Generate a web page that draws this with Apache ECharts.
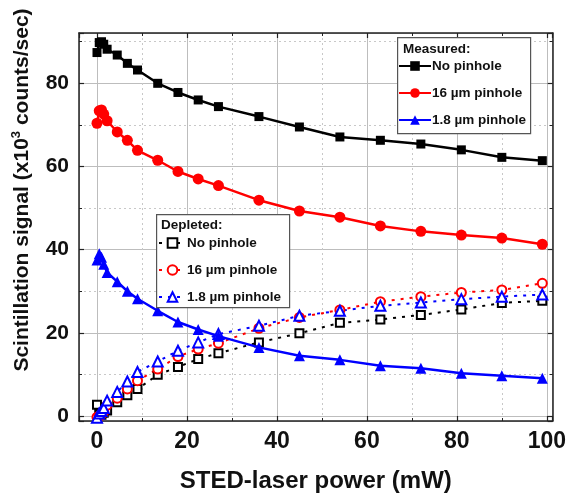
<!DOCTYPE html>
<html>
<head>
<meta charset="utf-8">
<script src="https://cdn.jsdelivr.net/npm/echarts@6/dist/echarts.min.js"></script>
<style>
html, body { margin: 0; padding: 0; background: #fff; }
#myChart { width: 569px; height: 498px; }
</style>
</head>
<body>
<div id="myChart"></div>
<script>
// STED-laser power (mW), shared by all series
const power = [0, 0.5, 1, 1.5, 2.25, 4.5, 6.75, 9, 13.5, 18, 22.5, 27, 36, 45, 54, 63, 72, 81, 90, 99]

// measured signal (x10^3 counts/sec)
const measNoPinhole = [87.4, 89.8, 90.0, 89.4, 88.2, 86.8, 84.8, 83.2, 80.0, 77.8, 76.0, 74.4, 72.0, 69.5, 67.1, 66.3, 65.4, 64.0, 62.2, 61.4]
const meas16um = [70.4, 73.4, 73.6, 72.6, 71.0, 68.3, 66.3, 63.9, 61.5, 58.8, 57.0, 55.4, 51.9, 49.3, 47.8, 45.7, 44.4, 43.5, 42.8, 41.3]
const meas18um = [37.5, 39.0, 38.2, 36.5, 34.5, 32.3, 30.0, 28.2, 25.3, 22.6, 20.8, 19.2, 16.5, 14.5, 13.5, 12.1, 11.5, 10.3, 9.7, 9.1]

// depleted signal
const deplNoPinhole = [2.7, 0.5, 0.3, 0.8, 1.3, 3.3, 5.0, 6.5, 9.9, 11.8, 13.7, 15.1, 17.7, 19.9, 22.4, 23.2, 24.3, 25.6, 27.2, 27.7]
const depl16um = [-0.3, 0.0, 0.4, 1.0, 2.6, 4.3, 6.5, 8.5, 11.3, 14.3, 16.1, 17.5, 21.1, 23.7, 25.5, 27.5, 28.7, 29.7, 30.3, 31.9]
const depl18um = [-0.4, 0.6, 1.2, 1.9, 3.7, 5.8, 8.3, 10.6, 13.1, 15.7, 17.7, 19.7, 21.7, 24.1, 25.3, 26.5, 27.3, 28.1, 28.7, 29.2]

const font = 'Liberation Sans'

function pairs(ys) {
	return power.map((x, i) => [x, ys[i]])
}

function measured(name, ys, color, symbol, size) {
	return {
		name: 'm_' + name,
		type: 'line',
		data: pairs(ys),
		symbol: symbol,
		symbolSize: size,
		showAllSymbol: true,
		lineStyle: { color: color, width: 2.5 },
		itemStyle: { color: color },
		z: 3
	}
}

function depleted(name, ys, color, symbol, size) {
	return {
		name: 'd_' + name,
		type: 'line',
		data: pairs(ys),
		symbol: symbol,
		symbolSize: size,
		showAllSymbol: true,
		lineStyle: { color: color, width: 2, type: [3, 6] },
		itemStyle: { color: color, borderWidth: 1.6 },
		z: 2
	}
}

const myChart = echarts.init(document.getElementById('myChart'))

const frameAxis = {
	type: 'value',
	min: -4,
	max: 101.3,
	splitNumber: 5,
	axisLine: { show: true, onZero: false, lineStyle: { color: '#222', width: 1.5 } },
	axisTick: { show: true, inside: true, length: 5, lineStyle: { color: '#222', width: 1.2 } },
	minorTick: { show: true, splitNumber: 2, length: 3, lineStyle: { color: '#222', width: 1 } },
	splitLine: { show: false },
	axisLabel: { show: false }
}

let option = {
	backgroundColor: '#fff',
	animation: false,
	grid: { left: 79, right: 16, top: 33, bottom: 77, containLabel: false },
	xAxis: [{
		type: 'value',
		min: -4,
		max: 101.3,
		splitNumber: 5,
		name: 'STED-laser power (mW)',
		nameLocation: 'middle',
		nameGap: 48,
		nameTextStyle: { fontFamily: font, fontWeight: 'bold', fontSize: 24, color: '#111' },
		axisLine: { show: true, onZero: false, lineStyle: { color: '#222', width: 1.5 } },
		axisTick: { show: true, inside: true, length: 5, lineStyle: { color: '#222', width: 1.2 } },
		minorTick: { show: true, splitNumber: 2, length: 3, lineStyle: { color: '#222', width: 1 } },
		splitLine: { show: true, lineStyle: { color: '#bdbdbd', width: 1 } },
		minorSplitLine: { show: true, lineStyle: { color: '#c8c8c8', width: 1, type: [2, 3] } },
		axisLabel: {
			margin: 9,
			fontFamily: font,
			fontWeight: 'bold',
			fontSize: 23,
			color: '#111',
			showMinLabel: false,
			showMaxLabel: false,
			formatter: v => (v % 20 === 0 ? String(v) : '')
		}
	}, Object.assign({}, frameAxis, { position: 'top' })],
	yAxis: [{
		type: 'value',
		min: -1.2,
		max: 92.1,
		splitNumber: 5,
		name: 'Scintillation signal (x10{sup|3} counts/sec)',
		nameLocation: 'middle',
		nameGap: 44,
		nameTextStyle: {
			fontFamily: font,
			fontWeight: 'bold',
			fontSize: 21,
			color: '#111',
			padding: [0, 0, 0, 74],
			rich: {
				sup: { fontFamily: font, fontWeight: 'bold', fontSize: 13, verticalAlign: 'top', padding: [0, 0, 12, 0] }
			}
		},
		axisLine: { show: true, onZero: false, lineStyle: { color: '#222', width: 1.5 } },
		axisTick: { show: true, inside: true, length: 5, lineStyle: { color: '#222', width: 1.2 } },
		minorTick: { show: true, splitNumber: 2, length: 3, lineStyle: { color: '#222', width: 1 } },
		splitLine: { show: true, lineStyle: { color: '#bdbdbd', width: 1 } },
		minorSplitLine: { show: true, lineStyle: { color: '#c8c8c8', width: 1, type: [2, 3] } },
		axisLabel: {
			margin: 10,
			fontFamily: font,
			fontWeight: 'bold',
			fontSize: 21,
			color: '#111',
			showMinLabel: false,
			showMaxLabel: false,
			formatter: v => (v % 20 === 0 ? String(v) : '')
		}
	}, Object.assign({}, frameAxis, { min: -1.2, max: 92.1, position: 'right' })],
	legend: [{
		data: ['m_No pinhole', 'm_16 µm pinhole', 'm_1.8 µm pinhole'],
		orient: 'vertical',
		left: 398,
		top: 59,
		padding: 0,
		itemWidth: 32,
		itemHeight: 12,
		itemGap: 13,
		z: 6,
		formatter: n => n.slice(2),
		textStyle: { fontFamily: font, fontWeight: 'bold', fontSize: 13.5, color: '#111', lineHeight: 14, padding: [0, 0, 0, -4] }
	}, {
		data: ['d_No pinhole', 'd_16 µm pinhole', 'd_1.8 µm pinhole'],
		orient: 'vertical',
		left: 158,
		top: 236,
		padding: 0,
		itemWidth: 27,
		itemHeight: 12,
		itemGap: 13,
		z: 6,
		formatter: n => n.slice(2),
		textStyle: { fontFamily: font, fontWeight: 'bold', fontSize: 13.5, color: '#111', lineHeight: 14, padding: [0, 0, 0, -4] }
	}],
	graphic: [
		{ type: 'rect', left: 397, top: 37, z: 5, shape: { width: 133, height: 96 }, style: { fill: '#fff', stroke: '#555', lineWidth: 1.2 } },
		{ type: 'text', left: 403, top: 42, z: 6, style: { text: 'Measured:', font: 'bold 13.5px "Liberation Sans"', fill: '#111' } },
		{ type: 'rect', left: 156, top: 214, z: 5, shape: { width: 133, height: 93 }, style: { fill: '#fff', stroke: '#555', lineWidth: 1.2 } },
		{ type: 'text', left: 161, top: 218, z: 6, style: { text: 'Depleted:', font: 'bold 13.5px "Liberation Sans"', fill: '#111' } }
	],
	series: [
		depleted('No pinhole', deplNoPinhole, '#000000', 'emptyRect', 8),
		depleted('16 µm pinhole', depl16um, '#ff0000', 'emptyCircle', 9),
		depleted('1.8 µm pinhole', depl18um, '#0000ff', 'emptyTriangle', 10),
		measured('No pinhole', measNoPinhole, '#000000', 'rect', 9),
		measured('16 µm pinhole', meas16um, '#ff0000', 'circle', 11),
		measured('1.8 µm pinhole', meas18um, '#0000ff', 'triangle', 11)
	]
}
myChart.setOption(option)
</script>
</body>
</html>
